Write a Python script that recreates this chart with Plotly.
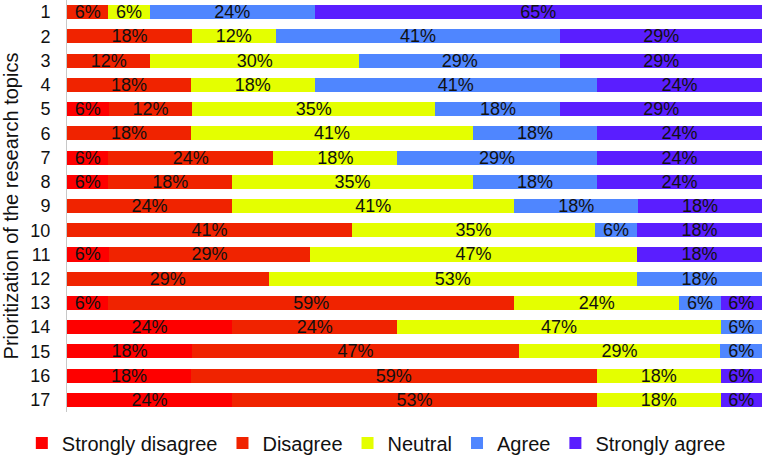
import plotly.graph_objects as go

topics = [str(i) for i in range(1, 18)]
series_names = ["Strongly disagree", "Disagree", "Neutral", "Agree", "Strongly agree"]
strongly_disagree = [0, 0, 0, 0, 6, 0, 6, 6, 0, 0, 6, 0, 6, 24, 18, 18, 24]
disagree = [6, 18, 12, 18, 12, 18, 24, 18, 24, 41, 29, 29, 59, 24, 47, 59, 53]
neutral = [6, 12, 30, 18, 35, 41, 18, 35, 41, 35, 47, 53, 24, 47, 29, 18, 18]
agree = [24, 41, 29, 41, 18, 18, 29, 18, 18, 6, 0, 18, 6, 6, 6, 0, 0]
strongly_agree = [65, 29, 29, 24, 29, 24, 24, 24, 18, 18, 18, 0, 6, 0, 0, 6, 6]
colors = ["#fe0000", "#f02300", "#e4ff00", "#4f86ff", "#5a1eff"]

FONT = "Liberation Sans, Arial, sans-serif"

fig = go.Figure()
for name, vals, col in zip(series_names,
                           [strongly_disagree, disagree, neutral, agree, strongly_agree],
                           colors):
    fig.add_trace(go.Bar(
        y=topics, x=vals, name=name, orientation="h",
        marker=dict(color=col, line=dict(width=0)),
        text=[f"{v}%" if v else "" for v in vals],
        textposition="inside", insidetextanchor="middle", textangle=0,
        constraintext="none",
        textfont=dict(family=FONT, size=18, color="#111111"),
        hoverinfo="skip",
    ))

fig.update_layout(
    barmode="stack", barnorm="percent", bargap=0.42,
    width=762, height=461,
    margin=dict(l=67, r=0, t=0, b=49, autoexpand=False),
    plot_bgcolor="white", paper_bgcolor="white",
    font=dict(family=FONT, color="#111111"),
    uniformtext=dict(minsize=18, mode="show"),
    showlegend=True,
    legend=dict(orientation="h", xref="paper", yref="paper",
                x=-0.065, xanchor="left", y=-0.075, yanchor="middle",
                font=dict(family=FONT, size=20, color="#111111"),
                traceorder="normal", itemclick=False),
    xaxis=dict(visible=False, range=[0, 100], fixedrange=True),
    yaxis=dict(type="category", autorange="reversed", showline=True,
               automargin=False,
               linecolor="#c8c8c8", linewidth=1, showgrid=False, ticks="",
               ticklabelstandoff=12,
               tickfont=dict(family=FONT, size=18, color="#111111"),
               title=dict(text="Prioritization of the research topics",
                          font=dict(family=FONT, size=20, color="#111111"),
                          standoff=14)),
)

fig.write_html("out.html",
               config={"displayModeBar": False, "staticPlot": True},
               post_script="document.body.style.margin='0px';document.body.style.overflow='hidden';")
